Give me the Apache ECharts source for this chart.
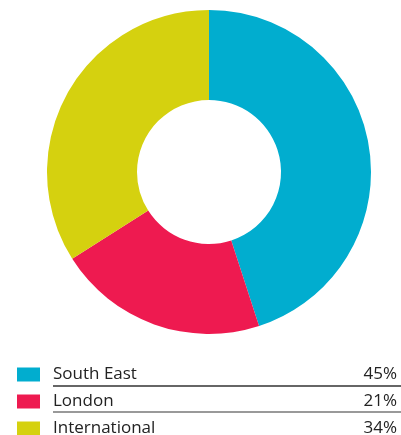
<!DOCTYPE html>
<html><head><meta charset="utf-8">
<script src="https://cdn.jsdelivr.net/npm/echarts@6/dist/echarts.min.js"></script>
<style>html,body{margin:0;padding:0;background:#fff}#c{width:401px;height:435px}</style>
</head><body><div id="c"></div>
<script>
const categories = ['South East', 'London', 'International'];
const values = [45, 21, 34];
const colors = ['#01ADCF', '#EE1A50', '#D5D10F'];

const chart = echarts.init(document.getElementById('c'), null, {renderer: 'canvas'});
const lookup = {};
categories.forEach((c, i) => lookup[c] = values[i]);
chart.setOption({
  animation: false,
  color: colors,
  legend: {
    orient: 'vertical',
    left: 17, top: 366, height: 120,
    padding: 0,
    itemWidth: 23, itemHeight: 14, itemGap: 10,
    icon: 'rect',
    selectedMode: false,
    data: categories,
    formatter: n => '{n|' + n + '}{p|' + lookup[n] + '%}',
    textStyle: {
      fontFamily: 'Open Sans', fontSize: 17, color: '#222', lineHeight: 14,
      rich: {
        n: {fontFamily: 'Open Sans', fontSize: 17, color: '#222', width: 300, padding: [0, 0, 0, 8], lineHeight: 14},
        p: {fontFamily: 'Open Sans', fontSize: 17, color: '#222', width: 44, align: 'right', lineHeight: 14}
      }
    }
  },
  graphic: [
    {type: 'line', shape: {x1: 53, y1: 386, x2: 401, y2: 386}, style: {stroke: '#333', lineWidth: 1.5}},
    {type: 'line', shape: {x1: 53, y1: 412, x2: 401, y2: 412}, style: {stroke: '#777', lineWidth: 1.5}}
  ],
  series: [{
    type: 'pie',
    center: [209, 172],
    radius: [72, 162],
    startAngle: 90,
    clockwise: true,
    label: {show: false},
    labelLine: {show: false},
    emphasis: {disabled: true},
    itemStyle: {borderWidth: 0},
    data: categories.map((c, i) => ({name: c, value: values[i]}))
  }]
});
</script></body></html>
